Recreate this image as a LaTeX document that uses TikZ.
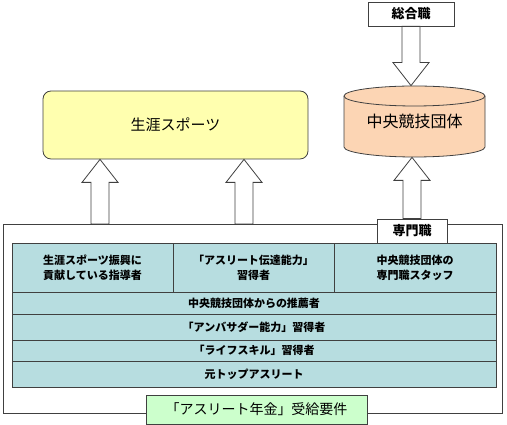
\documentclass[tikz,border=0pt]{standalone}
\usepackage{fontspec}
\setmainfont{Noto Sans CJK JP}
\usetikzlibrary{calc}

\definecolor{cellblue}{RGB}{183,221,224}
\definecolor{lifeyellow}{RGB}{255,255,175}
\definecolor{orgpeach}{RGB}{252,213,180}
\definecolor{reqgreen}{RGB}{204,255,204}

\newcommand{\blkarrow}[2]{%
  \coordinate (hb) at ($(#2)!23pt!(#1)$);
  \draw[blockarrow] ($(#1)!9pt!90:(#2)$) -- ($(hb)!9pt!90:(#2)$) -- ($(hb)!18pt!90:(#2)$)
    -- (#2) -- ($(hb)!18pt!-90:(#2)$) -- ($(hb)!9pt!-90:(#2)$) -- ($(#1)!9pt!-90:(#2)$) -- cycle;
}

\begin{document}
\begin{tikzpicture}[x=1pt,y=1pt,line width=0.8pt,
    cell/.style={draw=black!75,fill=cellblue,font=\fontsize{11}{15}\selectfont\bfseries,align=center,inner sep=0pt},
    tag/.style={draw=black!75,fill=white,font=\fontsize{13}{15}\selectfont\bfseries,minimum height=24,inner sep=0pt},
    blockarrow/.style={draw=black!75,fill=white,line join=miter}]
      \useasboundingbox (0,0) rectangle (507,425);

      \node[draw=black!75,minimum width=499,minimum height=189](frame) at (252.5,106.5) {};

      \node[cell,minimum width=161,minimum height=49](c1) at (92.5,157.5) {生涯スポーツ振興に\\貢献している指導者};
      \node[cell,minimum width=161,minimum height=49](c2) at (253.5,157.5) {「アスリート伝達能力」\\習得者};
      \node[cell,minimum width=162,minimum height=49](c3) at (415,157.5) {中央競技団体の\\専門職スタッフ};
      \node[cell,minimum width=484,minimum height=22](r2) at (254,122) {中央競技団体からの推薦者};
      \node[cell,minimum width=484,minimum height=26](r3) at (254,98) {「アンバサダー能力」習得者};
      \node[cell,minimum width=484,minimum height=21](r4) at (254,74.5) {「ライフスキル」習得者};
      \node[cell,minimum width=484,minimum height=26](r5) at (254,51) {元トップアスリート};

      \node[draw=black!75,fill=reqgreen,minimum width=221,minimum height=29,inner sep=0pt,
        font=\fontsize{14}{16}\selectfont](req) at (256.5,15.5) {「アスリート年金」受給要件};

      \node[tag,minimum width=70](sen) at (412,194) {専門職};
      \node[tag,minimum width=86](sog) at (411,411) {総合職};

      \node[draw=black!75,fill=lifeyellow,rounded corners=8pt,minimum width=265,minimum height=68,
        font=\fontsize{15}{17}\selectfont](life) at (175.5,300) {生涯スポーツ};

      \coordinate (cylc) at (414.5,303.5);
      \draw[draw=black!75,fill=orgpeach] ($(cylc)+(-70.5,25.5)$) -- ++(0,-51)
        arc[start angle=180,end angle=360,x radius=70.5,y radius=10] -- ++(0,51)
        arc[start angle=0,end angle=180,x radius=70.5,y radius=10] -- cycle;
      \draw[draw=black!75] ($(cylc)+(-70.5,25.5)$) arc[start angle=180,end angle=360,x radius=70.5,y radius=10];
      \node[minimum width=141,minimum height=71,font=\fontsize{16}{18}\selectfont](org) at (cylc) {中央競技団体};

      \coordinate (f1) at (100,201);
      \coordinate (f2) at (244,201);
      \coordinate (t1) at (f1 |- life.south);
      \coordinate (t2) at (f2 |- life.south);
      \coordinate (t3) at (sen.north |- org.south);
      \coordinate (t4) at (sog.south |- org.north);

      \blkarrow{f1}{t1}
      \blkarrow{f2}{t2}
      \blkarrow{sen.north}{t3}
      \blkarrow{sog.south}{t4}
    \end{tikzpicture}
\end{document}
